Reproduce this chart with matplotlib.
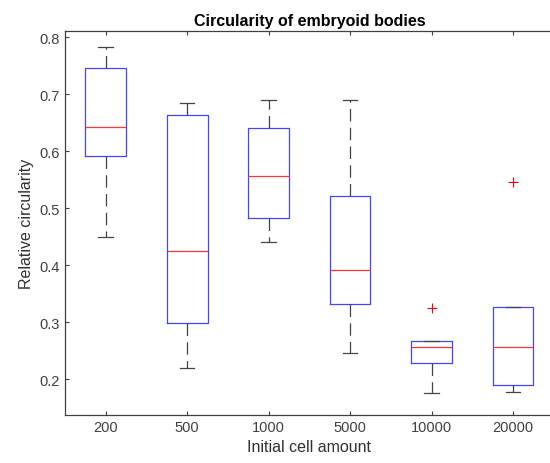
import matplotlib.pyplot as plt

# Box statistics
labels = ['200', '500', '1000', '5000', '10000', '20000']
medians = [0.642, 0.425, 0.557, 0.392, 0.257, 0.256]
q1 = [0.591, 0.299, 0.483, 0.332, 0.229, 0.189]
q3 = [0.746, 0.664, 0.641, 0.522, 0.267, 0.327]
whislo = [0.450, 0.220, 0.441, 0.246, 0.175, 0.177]
whishi = [0.782, 0.684, 0.690, 0.690, 0.267, 0.327]
outliers = [[], [], [], [], [0.325], [0.545]]

plt.rcParams['font.family'] = ['Liberation Sans', 'DejaVu Sans']

stats = []
for lab, m, a, b, lo, hi, fl in zip(labels, medians, q1, q3, whislo, whishi, outliers):
    stats.append({'label': lab, 'med': m, 'q1': a, 'q3': b,
                  'whislo': lo, 'whishi': hi, 'fliers': fl})

fig = plt.figure(figsize=(5.5, 4.64), dpi=100)
ax = fig.add_axes([0.118, 0.1034, 0.889, 0.828])

ax.bxp(stats, widths=0.5, capwidths=0.18,
       boxprops=dict(color='#4444ff', linewidth=0.9),
       medianprops=dict(color='#ff3333', linewidth=0.9),
       whiskerprops=dict(color='#444444', linewidth=0.9, linestyle=(0, (10, 5))),
       capprops=dict(color='#444444', linewidth=0.9),
       flierprops=dict(marker='+', markeredgecolor='#ff0000', markersize=7,
                       markeredgewidth=0.8))

ax.set_xlim(0.5, 6.5)
ax.set_ylim(0.137, 0.811)
ax.set_yticks([0.2, 0.3, 0.4, 0.5, 0.6, 0.7, 0.8])
ax.tick_params(direction='in', top=True, right=True, labelsize=10.5,
               colors='#404040', length=3, width=0.8)
for s in ax.spines.values():
    s.set_color('#404040')
    s.set_linewidth(0.9)

ax.set_title('Circularity of embryoid bodies', fontsize=11.5, fontweight='bold', pad=4)
ax.set_xlabel('Initial cell amount', fontsize=11.5, color='#303030')
ax.set_ylabel('Relative circularity', fontsize=11.5, color='#303030')

fig.savefig('out.png', dpi=100)
